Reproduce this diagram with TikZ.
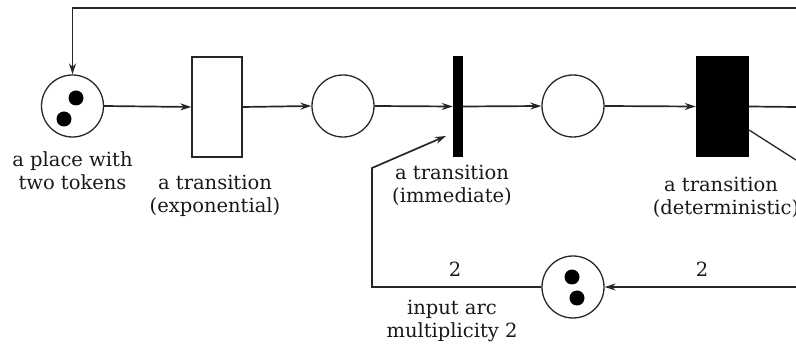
\documentclass[tikz,border=0pt]{standalone}
\usepackage{fontspec}
\setmainfont{DejaVu Serif}
\usetikzlibrary{arrows.meta,calc}
\begin{document}
\begin{tikzpicture}[x=1pt,y=-1pt,
  place/.style={circle,draw=black!85,line width=1.3pt,minimum size=62pt,inner sep=0pt},
  token/.style={circle,fill=black,minimum size=15pt,inner sep=0pt},
  expt/.style={rectangle,draw=black!85,line width=1.3pt,fill=white,minimum width=50pt,minimum height=100pt,inner sep=0pt},
  imt/.style={rectangle,fill=black,minimum width=10pt,minimum height=101pt,inner sep=0pt},
  dett/.style={rectangle,fill=black,minimum width=53pt,minimum height=101pt,inner sep=0pt},
  arc/.style={draw=black!85,line width=1.7pt},
  tip/.style={-{Stealth[length=11pt,width=7pt]}},
  lab/.style={inner sep=0pt,anchor=base,font=\fontsize{19.5}{22}\selectfont,text=black!90}
]
\useasboundingbox (0,0) rectangle (796,347);
% places
\node[place] (p1) at (72.5,106) {};
\node[token] (k1) at (76,98) {};
\node[token] (k2) at (64,119) {};
\node[place] (p2) at (343,106) {};
\node[place] (p3) at (573,106) {};
\node[place] (p4) at (573,287) {};
\node[token] (k3) at (572,277) {};
\node[token] (k4) at (577,298) {};
% transitions
\node[expt] (t1) at (217,107) {};
\node[imt] (t2) at (458,106.5) {};
\node[dett] (t3) at (722.5,106.5) {};
% free ends
\coordinate (topR) at (796,8);
\coordinate (midR) at (796,107);
\coordinate (diagS) at (749,130);
\coordinate (diagR) at (796,160);
\coordinate (botR) at (796,287);
\coordinate (bend) at (372,168);
\coordinate (inTip) at (446,136);
% arcs
\draw[arc,tip] (topR) -- (p1 |- topR) -- (p1.north);
\draw[arc,tip] (p1.east) -- (t1.west);
\draw[arc,tip] (t1.east) -- (p2.west);
\draw[arc,tip] (p2.east) -- (t2.west);
\draw[arc,tip] (t2.east) -- (p3.west);
\draw[arc,tip] (p3.east) -- (t3.west);
\draw[arc] (t3.east) -- (midR);
\draw[draw=black!85,line width=1.3pt] (diagS) -- (diagR);
\draw[arc,tip] (botR) -- (p4.east);
\draw[arc,tip] (p4.west) -| (bend) -- (inTip);
% labels
\node[lab] (l1a) at (72.5,167) {a place with};
\node[lab] (l1b) at (72.5,190) {two tokens};
\node[lab] (l2a) at (215,190) {a transition};
\node[lab] (l2b) at (215,213) {(exponential)};
\node[lab] (l3a) at (452,180) {a transition};
\node[lab] (l3b) at (452,203) {(immediate)};
\node[lab] (l4a) at (721,192) {a transition};
\node[lab] (l4b) at (726,215) {(deterministic)};
\node[lab] (m1) at (455,277) {2};
\node[lab] (m2) at (702,277) {2};
\node[lab] (l5a) at (452,315) {input arc};
\node[lab] (l5b) at (452,338) {multiplicity 2};
\end{tikzpicture}
\end{document}
